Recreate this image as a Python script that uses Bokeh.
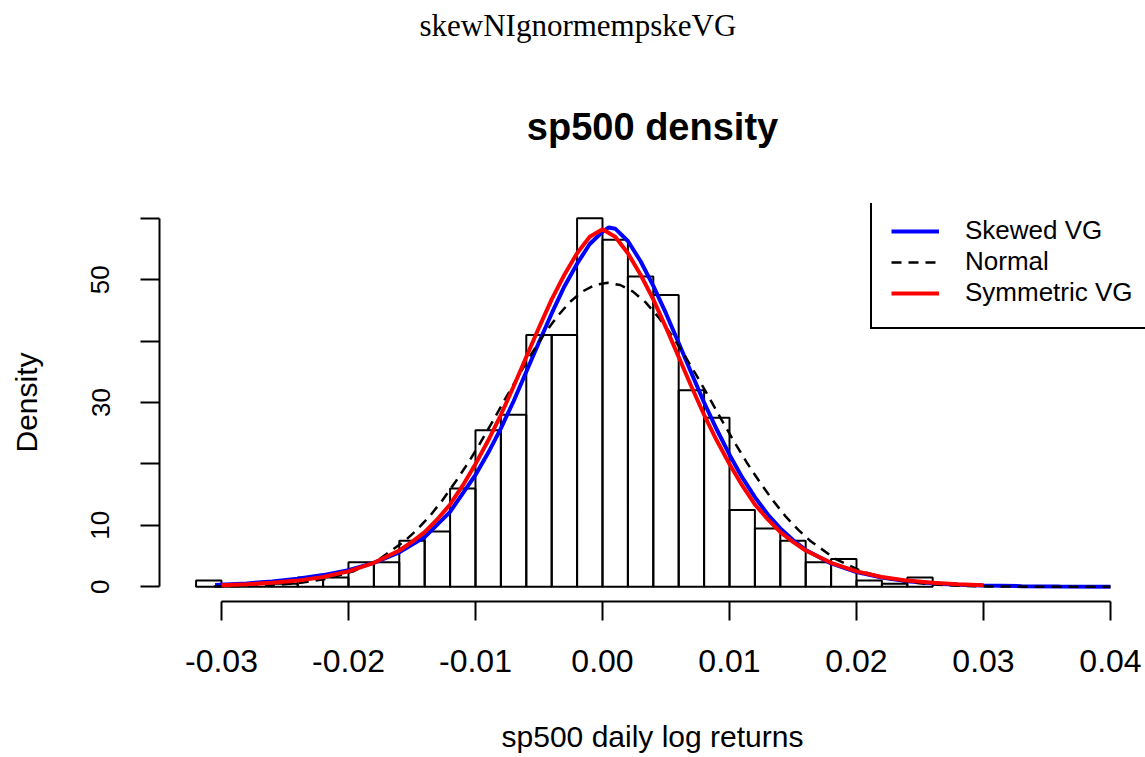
from bokeh.plotting import figure
from bokeh.models import Range1d, FixedTicker, Legend, LegendItem, ColumnDataSource, Title
from bokeh.embed import file_html
from bokeh.resources import INLINE

# ---- histogram (density) ----
bin_left = [-0.032, -0.030, -0.028, -0.026, -0.024, -0.022, -0.020, -0.018, -0.016, -0.014,
            -0.012, -0.010, -0.008, -0.006, -0.004, -0.002, 0.000, 0.002, 0.004, 0.006,
            0.008, 0.010, 0.012, 0.014, 0.016, 0.018, 0.020, 0.022, 0.024]
bin_right = [-0.030, -0.028, -0.026, -0.024, -0.022, -0.020, -0.018, -0.016, -0.014, -0.012,
             -0.010, -0.008, -0.006, -0.004, -0.002, 0.000, 0.002, 0.004, 0.006, 0.008,
             0.010, 0.012, 0.014, 0.016, 0.018, 0.020, 0.022, 0.024, 0.026]
hist_density = [1.0, 0.0, 0.0, 0.5, 1.5, 1.5, 4.0, 4.0, 7.5, 9.0,
                16.0, 25.5, 28.0, 41.0, 41.0, 60.0, 56.5, 50.5, 47.5, 32.0,
                27.5, 12.5, 9.5, 7.5, 4.0, 4.5, 1.0, 0.5, 1.5]

# ---- Skewed VG (blue) ----
svg_x = [-0.0305, -0.028, -0.026, -0.024, -0.022, -0.020, -0.018, -0.016, -0.014, -0.012,
         -0.010, -0.009, -0.008, -0.007, -0.006, -0.005, -0.004, -0.003, -0.002, -0.001,
         0.000, 0.0005, 0.001, 0.002, 0.003, 0.004, 0.005, 0.006, 0.007, 0.008,
         0.009, 0.010, 0.011, 0.012, 0.013, 0.014, 0.015, 0.016, 0.018, 0.020,
         0.022, 0.024, 0.026, 0.028, 0.030, 0.033, 0.036, 0.040]
svg_y = [0.3, 0.55, 0.85, 1.3, 1.9, 2.7, 3.9, 5.6, 8.1, 12.2,
         18.2, 21.8, 25.8, 30.2, 35.0, 39.8, 44.5, 48.9, 52.6, 55.8,
         57.8, 58.5, 58.3, 56.3, 53.0, 49.0, 44.5, 39.7, 34.8, 30.0,
         25.6, 21.5, 17.8, 14.6, 11.8, 9.5, 7.6, 6.0, 3.8, 2.4,
         1.5, 0.9, 0.55, 0.33, 0.2, 0.1, 0.05, 0.02]

# ---- Normal (black dashed) ----
norm_x = [-0.0306, -0.0276, -0.0256, -0.0236, -0.0216, -0.0196, -0.0176, -0.0156, -0.0146, -0.0136,
          -0.0126, -0.0116, -0.0106, -0.0096, -0.0086, -0.0076, -0.0066, -0.0056, -0.0046, -0.0036,
          -0.0026, -0.0016, -0.0006, 0.0004, 0.0014, 0.0024, 0.0034, 0.0044, 0.0054, 0.0064,
          0.0074, 0.0084, 0.0094, 0.0104, 0.0114, 0.0124, 0.0134, 0.0144, 0.0154, 0.0164,
          0.0184, 0.0204, 0.0224, 0.0244, 0.0264, 0.0284, 0.0304, 0.0324, 0.0354, 0.0400]
norm_y = [0.04, 0.15, 0.32, 0.68, 1.35, 2.53, 4.45, 7.4, 9.3, 11.5,
          14.1, 17.0, 20.1, 23.5, 27.1, 30.8, 34.4, 37.9, 41.1, 43.9,
          46.3, 48.05, 49.13, 49.5, 49.13, 48.05, 46.3, 43.9, 41.1, 37.9,
          34.4, 30.8, 27.1, 23.5, 20.1, 17.0, 14.1, 11.5, 9.3, 7.4,
          4.45, 2.53, 1.35, 0.68, 0.32, 0.15, 0.06, 0.025, 0.005, 0.0]

# ---- Symmetric VG (red) ----
sym_x = [-0.030, -0.028, -0.026, -0.024, -0.022, -0.020, -0.018, -0.016, -0.015, -0.014,
         -0.013, -0.012, -0.011, -0.010, -0.009, -0.008, -0.007, -0.006, -0.005, -0.004,
         -0.003, -0.002, -0.001, 0.000, 0.001, 0.002, 0.003, 0.004, 0.005, 0.006,
         0.007, 0.008, 0.009, 0.010, 0.011, 0.012, 0.013, 0.014, 0.015, 0.016,
         0.018, 0.020, 0.022, 0.024, 0.026, 0.028, 0.030]
sym_y = [0.25, 0.4, 0.65, 1.0, 1.6, 2.5, 3.9, 5.9, 7.3, 8.9,
         11.0, 13.4, 16.5, 20.0, 23.8, 28.0, 32.6, 37.4, 42.2, 46.8,
         50.8, 54.3, 57.0, 58.2, 57.0, 54.3, 50.8, 46.8, 42.2, 37.4,
         32.6, 28.0, 23.8, 20.0, 16.5, 13.4, 11.0, 8.9, 7.3, 5.9,
         3.9, 2.5, 1.6, 1.0, 0.65, 0.4, 0.25]

x_ticks = [-0.03, -0.02, -0.01, 0.00, 0.01, 0.02, 0.03, 0.04]
x_tick_labels = ["-0.03", "-0.02", "-0.01", "0.00", "0.01", "0.02", "0.03", "0.04"]
y_ticks = [0, 10, 20, 30, 40, 50, 60]
y_tick_labels = ["0", "10", "", "30", "", "50", ""]

caption_text = "skewNIgnormempskeVG"
title_text = "sp500 density"
xlabel_text = "sp500 daily log returns"
ylabel_text = "Density"
legend_labels = ["Skewed VG", "Normal", "Symmetric VG"]

SANS = "Liberation Sans"

p = figure(width=1145, height=757, output_backend="svg", toolbar_location=None,
           x_range=Range1d(-0.03488, 0.042756), y_range=Range1d(-2.4, 62.4),
           min_border_left=159, min_border_right=0, min_border_top=200, min_border_bottom=156)
p.background_fill_color = "white"
p.border_fill_color = "white"
p.outline_line_color = None
p.grid.visible = False

# caption (outermost, top of page)
p.title.text = caption_text
p.title.text_font = "Liberation Serif"
p.title.text_font_style = "normal"
p.title.text_font_size = "31px"
p.title.text_color = "black"
p.title.align = "left"
p.title.offset = 260
p.title.vertical_align = "bottom"
p.title.standoff = 10
# main plot title (nearest the frame)
p.add_layout(Title(text=title_text, text_font=SANS, text_font_size="38px",
                   text_font_style="bold", text_color="black", align="center",
                   vertical_align="bottom", standoff=112), "above")

src_h = ColumnDataSource(dict(left=bin_left, right=bin_right, top=hist_density,
                              bottom=[0.0] * len(hist_density)))
p.quad(left="left", right="right", top="top", bottom="bottom", source=src_h,
       fill_color=None, line_color="black", line_width=2)

r_blue = p.line(svg_x, svg_y, line_color="#0000ff", line_width=4)
r_norm = p.line(norm_x, norm_y, line_color="black", line_width=2.5, line_dash="10 7")
r_red = p.line(sym_x, sym_y, line_color="#ff0000", line_width=4)

# axes (R style)
xa = p.xaxis[0]
xa.ticker = FixedTicker(ticks=x_ticks)
xa.major_label_overrides = {t: l for t, l in zip(x_ticks, x_tick_labels)}
xa.bounds = (x_ticks[0], x_ticks[-1])
xa.minor_tick_line_color = None
xa.major_tick_in = 0
xa.major_tick_out = 19
xa.major_tick_line_width = 2
xa.axis_line_width = 2
xa.axis_line_color = "black"
xa.major_tick_line_color = "black"
xa.major_label_text_font = SANS
xa.major_label_text_font_size = "32px"
xa.major_label_text_color = "black"
xa.major_label_standoff = 29
xa.axis_label = xlabel_text
xa.axis_label_text_font = SANS
xa.axis_label_text_font_size = "30px"
xa.axis_label_text_font_style = "normal"
xa.axis_label_text_color = "black"
xa.axis_label_standoff = 45

ya = p.yaxis[0]
ya.ticker = FixedTicker(ticks=y_ticks)
ya.major_label_overrides = {t: l for t, l in zip(y_ticks, y_tick_labels)}
ya.bounds = (y_ticks[0], y_ticks[-1])
ya.minor_tick_line_color = None
ya.major_tick_in = 0
ya.major_tick_out = 19
ya.major_tick_line_width = 2
ya.axis_line_width = 2
ya.axis_line_color = "black"
ya.major_tick_line_color = "black"
ya.major_label_text_font = SANS
ya.major_label_text_font_size = "26px"
ya.major_label_text_color = "black"
ya.major_label_orientation = "vertical"
ya.major_label_standoff = 31
ya.axis_label = ylabel_text
ya.axis_label_text_font = SANS
ya.axis_label_text_font_size = "30px"
ya.axis_label_text_font_style = "normal"
ya.axis_label_text_color = "black"
ya.axis_label_standoff = 46

legend = Legend(items=[LegendItem(label=legend_labels[0], renderers=[r_blue]),
                       LegendItem(label=legend_labels[1], renderers=[r_norm]),
                       LegendItem(label=legend_labels[2], renderers=[r_red])],
                location=(711, 272), margin=0, padding=19, spacing=0,
                glyph_width=48, glyph_height=30, label_height=30, label_width=190,
                label_standoff=26, label_text_font=SANS, label_text_font_size="26px",
                label_text_color="black", border_line_color="black", border_line_width=2,
                border_line_alpha=1.0,
                background_fill_color="white", background_fill_alpha=1.0)
p.add_layout(legend, "center")

open("out.html", "w").write(file_html(p, INLINE))
